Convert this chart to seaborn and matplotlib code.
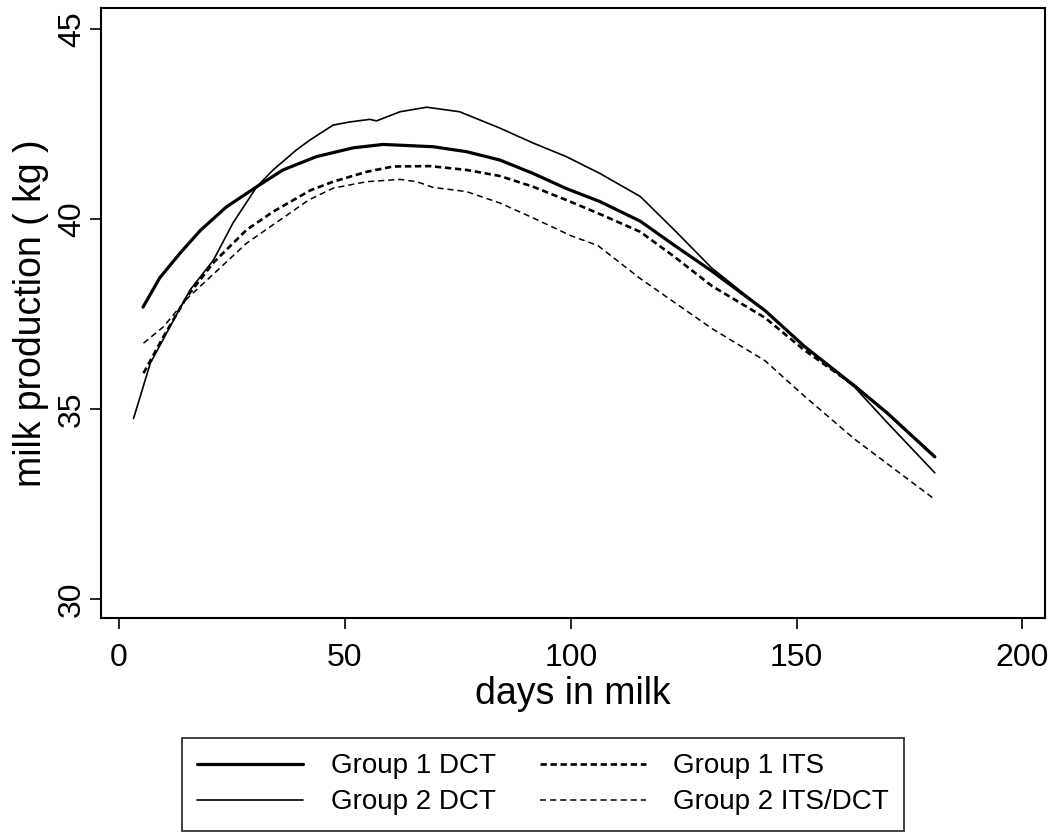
import numpy as np
import pandas as pd
import matplotlib
matplotlib.use("Agg")
import matplotlib.pyplot as plt
import seaborn as sns

# values
g1_dct_days = [5.3, 9, 13.5, 18, 23.8, 30.5, 36.3, 43.7, 51.8, 58.4, 64, 69.5, 76.9,
               84.3, 91.6, 99, 106.4, 115.4, 123, 131.2, 143, 151.7, 162.8, 170, 180.6]
g1_dct_milk = [37.68, 38.45, 39.1, 39.7, 40.32, 40.85, 41.29, 41.64, 41.87, 41.96, 41.93, 41.9, 41.77,
               41.55, 41.2, 40.8, 40.46, 39.94, 39.3, 38.63, 37.59, 36.65, 35.61, 34.9, 33.74]

g2_dct_days = [3.2, 6.9, 11.3, 15.7, 20.9, 25.2, 30.5, 34.1, 39.3, 42.3, 47.4, 51, 55.5, 57,
               62.2, 68.1, 75.4, 84.3, 91.6, 99, 106.4, 115.4, 123, 131.2, 143, 151.7, 162.8,
               170, 180.6]
g2_dct_milk = [34.75, 36.2, 37.17, 38.13, 38.92, 39.89, 40.85, 41.29, 41.82, 42.08, 42.47, 42.55,
               42.62, 42.58, 42.82, 42.94, 42.82, 42.39, 42.0, 41.64, 41.2, 40.59, 39.7, 38.71,
               37.59, 36.65, 35.58, 34.65, 33.32]

g1_its_days = [5.4, 9.8, 15, 20.9, 28.2, 34.1, 42.3, 47.4, 54.8, 60.7, 68.8, 76.9, 84.3,
               91.6, 100, 107, 115.4, 123, 131.2, 143, 151.7, 162.8, 170, 180.6]
g1_its_milk = [35.94, 36.9, 37.95, 38.85, 39.71, 40.19, 40.75, 40.98, 41.24, 41.38, 41.39, 41.29,
               41.13, 40.85, 40.45, 40.1, 39.66, 39.0, 38.24, 37.4, 36.55, 35.61, 34.9, 33.74]

g2_its_days = [5.4, 9.8, 15, 20.9, 28.2, 35.6, 42, 47.4, 54.8, 62.2, 65.9, 69.5, 76.9, 84.3,
               91.6, 100, 106, 115.4, 123, 131.2, 143, 151.7, 162.8, 180.6]
g2_its_milk = [36.73, 37.16, 37.9, 38.55, 39.36, 39.97, 40.5, 40.81, 40.98, 41.04, 40.98, 40.83,
               40.72, 40.42, 40.03, 39.56, 39.3, 38.43, 37.8, 37.12, 36.27, 35.34, 34.21, 32.62]

groups = ["Group 1 DCT", "Group 1 ITS", "Group 2 DCT", "Group 2 ITS/DCT"]

frames = []
for name, d, m in zip(groups,
                      [g1_dct_days, g1_its_days, g2_dct_days, g2_its_days],
                      [g1_dct_milk, g1_its_milk, g2_dct_milk, g2_its_milk]):
    frames.append(pd.DataFrame({"days": d, "milk": m, "group": name}))
df = pd.concat(frames, ignore_index=True)

sns.set_style("ticks", rc={"text.color": "black", "axes.labelcolor": "black",
                           "xtick.color": "black", "ytick.color": "black",
                           "axes.edgecolor": "black"})
plt.rcParams["font.family"] = ["Liberation Sans", "DejaVu Sans"]

fig = plt.figure(figsize=(10.59, 8.33), dpi=100)
ax = fig.add_axes([0.0954, 0.2581, 0.8914, 0.7323])

sns.lineplot(data=df, x="days", y="milk", hue="group", style="group", size="group",
             hue_order=groups, style_order=groups, size_order=groups,
             palette={g: "black" for g in groups},
             sizes={"Group 1 DCT": 2.3, "Group 1 ITS": 1.9,
                    "Group 2 DCT": 1.2, "Group 2 ITS/DCT": 1.1},
             dashes={"Group 1 DCT": "", "Group 1 ITS": (2.4, 1.4),
                     "Group 2 DCT": "", "Group 2 ITS/DCT": (4.0, 2.6)},
             estimator=None, sort=False, ax=ax)

handles, labels = ax.get_legend_handles_labels()
ax.get_legend().remove()
hmap = dict(zip(labels, handles))

ax.set_xlim(-4, 205)
ax.set_ylim(29.5, 45.55)
ax.set_xticks([0, 50, 100, 150, 200])
ax.set_yticks([30, 35, 40, 45])
ax.tick_params(axis="both", labelsize=23, length=8, width=1.2)
ax.tick_params(axis="x", pad=10)
ax.tick_params(axis="y", pad=2)
plt.setp(ax.get_yticklabels(), rotation=90, va="center")
for s in ax.spines.values():
    s.set_visible(True)
    s.set_linewidth(1.5)

ax.set_xlabel("days in milk", fontsize=27, labelpad=2)
ax.set_ylabel("milk production ( kg )", fontsize=27, labelpad=6)

order = ["Group 1 DCT", "Group 2 DCT", "Group 1 ITS", "Group 2 ITS/DCT"]
leg = fig.legend([hmap[g] for g in order], order, ncol=2, loc="upper center",
                 bbox_to_anchor=(0.513, 0.114), fontsize=20, frameon=True, fancybox=False,
                 edgecolor="black", handlelength=3.8, handletextpad=1.0, columnspacing=1.6,
                 borderpad=0.55, labelspacing=0.36, borderaxespad=0)
leg.get_frame().set_linewidth(1.3)

fig.savefig("out.png", dpi=100)
